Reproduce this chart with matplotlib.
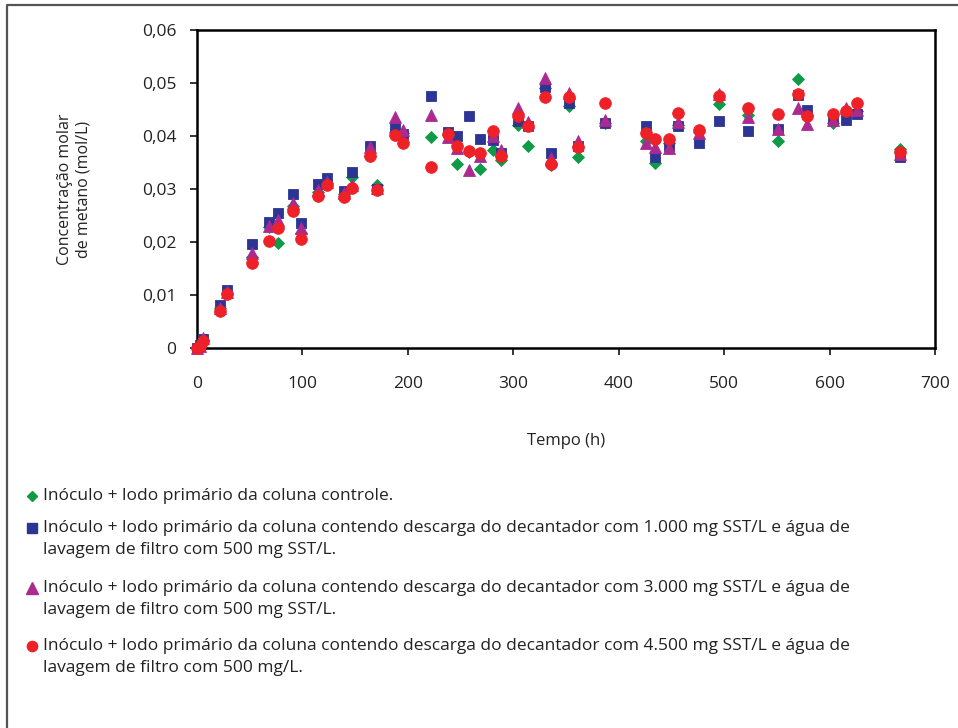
import matplotlib
matplotlib.use("Agg")
import matplotlib.pyplot as plt
from matplotlib.ticker import FuncFormatter

plt.rcParams['font.family'] = ['Open Sans', 'DejaVu Sans']

# Sampling times (h)
tempo = [0, 3, 6, 22, 28, 52, 68, 77, 91, 99, 115, 123, 139, 147, 164, 171,
         188, 195, 222, 238, 247, 258, 268, 281, 288, 304, 314, 330, 336, 353,
         361, 387, 426, 434, 448, 456, 476, 495, 523, 551, 570, 579, 603, 616,
         626, 667]

# Methane molar concentration (mol/L) per column
controle = [0, 0.0005, 0.0015, 0.0075, 0.0104, 0.0172, 0.0228, 0.0199, 0.0268,
            0.0217, 0.0295, 0.0312, 0.0290, 0.0322, 0.0362, 0.0308, 0.0408,
            0.0405, 0.0399, 0.0402, 0.0347, 0.0370, 0.0337, 0.0374, 0.0355,
            0.0420, 0.0381, 0.0490, 0.0346, 0.0456, 0.0360, 0.0425, 0.0390,
            0.0350, 0.0386, 0.0421, 0.0408, 0.0461, 0.0440, 0.0390, 0.0508,
            0.0440, 0.0425, 0.0445, 0.0448, 0.0376]
sst_1000 = [0, 0.0005, 0.0017, 0.0081, 0.0109, 0.0196, 0.0237, 0.0254, 0.0290,
            0.0235, 0.0310, 0.0320, 0.0297, 0.0333, 0.0381, 0.0300, 0.0419,
            0.0404, 0.0476, 0.0408, 0.0400, 0.0438, 0.0394, 0.0392, 0.0368,
            0.0429, 0.0418, 0.0492, 0.0367, 0.0463, 0.0381, 0.0424, 0.0418,
            0.0360, 0.0381, 0.0419, 0.0386, 0.0429, 0.0410, 0.0413, 0.0477,
            0.0449, 0.0432, 0.0431, 0.0441, 0.0361]
sst_3000 = [0, 0.0004, 0.0018, 0.0075, 0.0105, 0.0180, 0.0231, 0.0242, 0.0273,
            0.0226, 0.0298, 0.0314, 0.0292, 0.0308, 0.0380, 0.0302, 0.0436,
            0.0412, 0.0440, 0.0399, 0.0377, 0.0336, 0.0362, 0.0400, 0.0374,
            0.0453, 0.0427, 0.0509, 0.0358, 0.0482, 0.0390, 0.0430, 0.0386,
            0.0379, 0.0377, 0.0427, 0.0405, 0.0479, 0.0435, 0.0413, 0.0452,
            0.0422, 0.0430, 0.0452, 0.0450, 0.0366]
sst_4500 = [0, 0.0003, 0.0014, 0.0070, 0.0101, 0.0161, 0.0202, 0.0226, 0.0259,
            0.0206, 0.0287, 0.0308, 0.0285, 0.0301, 0.0363, 0.0299, 0.0401,
            0.0386, 0.0342, 0.0404, 0.0381, 0.0372, 0.0367, 0.0410, 0.0362,
            0.0438, 0.0418, 0.0473, 0.0347, 0.0473, 0.0379, 0.0463, 0.0405,
            0.0394, 0.0394, 0.0444, 0.0412, 0.0475, 0.0453, 0.0441, 0.0480,
            0.0437, 0.0441, 0.0448, 0.0462, 0.0369]

x_ticks = [0, 100, 200, 300, 400, 500, 600, 700]
y_ticks = [0, 0.01, 0.02, 0.03, 0.04, 0.05, 0.06]

legend_lines = [
    ["Inóculo + lodo primário da coluna controle."],
    ["Inóculo + lodo primário da coluna contendo descarga do decantador com 1.000 mg SST/L e água de",
     "lavagem de filtro com 500 mg SST/L."],
    ["Inóculo + lodo primário da coluna contendo descarga do decantador com 3.000 mg SST/L e água de",
     "lavagem de filtro com 500 mg SST/L."],
    ["Inóculo + lodo primário da coluna contendo descarga do decantador com 4.500 mg SST/L e água de",
     "lavagem de filtro com 500 mg/L."],
]

GREEN = '#0f9a48'
BLUE = '#2b3593'
MAGENTA = '#ab2a8f'
RED = '#ee2028'
TEXT = '#222222'

W, H = 958, 728
fig = plt.figure(figsize=(W / 100, H / 100), dpi=100)

ax = fig.add_axes([197 / W, 1 - 348 / H, (935 - 197) / W, (348 - 30) / H])
series = [
    (controle, 'D', GREEN, 6.4),
    (sst_1000, 's', BLUE, 7.8),
    (sst_3000, '^', MAGENTA, 8.8),
    (sst_4500, 'o', RED, 8.4),
]
for i, (vals, mk, col, ms) in enumerate(series):
    ax.plot(tempo, vals, linestyle='none', marker=mk, markersize=ms,
            markerfacecolor=col, markeredgecolor=col, markeredgewidth=0.6,
            zorder=3 + i, clip_on=False)

ax.set_xlim(0, 700)
ax.set_ylim(0, 0.06)
ax.set_xticks(x_ticks)
ax.set_yticks(y_ticks)
ax.yaxis.set_major_formatter(FuncFormatter(
    lambda v, p: '0' if abs(v) < 1e-12 else f'{v:.2f}'.replace('.', ',')))
for s in ax.spines.values():
    s.set_linewidth(1.8)
    s.set_color('black')
ax.tick_params(axis='both', direction='out', length=5, width=1.1,
               labelsize=12.5, labelcolor=TEXT, color='black')
ax.tick_params(axis='y', pad=10)
ax.tick_params(axis='x', pad=15)
ax.set_xlabel('Tempo (h)', fontsize=12, color=TEXT, labelpad=30)
ax.set_ylabel('Concentração molar\nde metano (mol/L)', fontsize=11.5,
              color=TEXT, labelpad=36, linespacing=1.2)

# Overlay in pixel coordinates for the frame and the legend block
ov = fig.add_axes([0, 0, 1, 1], zorder=-1)
ov.set_xlim(0, W)
ov.set_ylim(H, 0)
ov.axis('off')
ov.plot([7, 7, W], [H, 5, 5], color='#555555', linewidth=1.6,
        solid_capstyle='butt')

leg_markers = [('D', GREEN, 5.4), ('s', BLUE, 7.2), ('^', MAGENTA, 8.2),
               ('o', RED, 7.4)]
row_y = [496, 528, 588, 646]
line_gap = 22
for (mk, col, ms), y0, lines in zip(leg_markers, row_y, legend_lines):
    ov.plot([32], [y0], marker=mk, markersize=ms, color=col,
            linestyle='none')
    for k, txt in enumerate(lines):
        ov.text(43, y0 + k * line_gap, txt, fontsize=12.5, color=TEXT,
                va='center', ha='left')

fig.savefig('out.png', dpi=100)
